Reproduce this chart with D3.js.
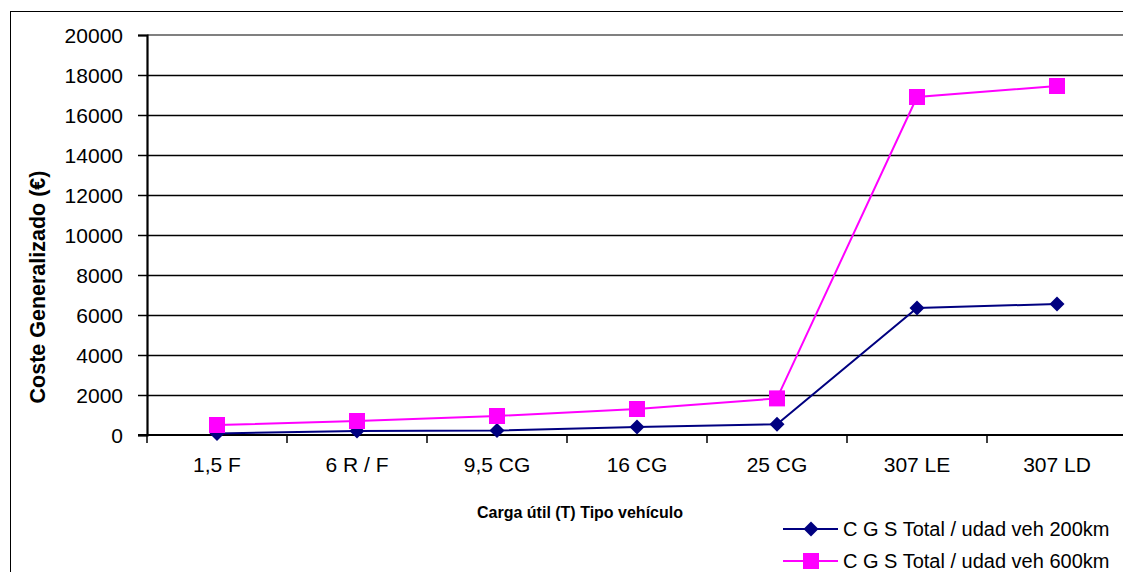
<!DOCTYPE html>
<html>
<head>
<meta charset="utf-8">
<script src="https://cdn.jsdelivr.net/npm/d3@7"></script>
<style>
  html, body { margin: 0; padding: 0; background: #fff; }
  svg { display: block; font-family: "Liberation Sans", Arial, sans-serif; }
</style>
</head>
<body>
<svg id="chart" width="1123" height="572"></svg>
<script>
// Vehicle categories (payload in tonnes + vehicle type)
const categories = ["1,5 F", "6 R / F", "9,5 CG", "16 CG", "25 CG", "307 LE", "307 LD"];
// Generalised cost per vehicle unit, 200 km trip (€)
const cost200 = [80, 200, 220, 400, 540, 6350, 6550];
// Generalised cost per vehicle unit, 600 km trip (€)
const cost600 = [500, 700, 950, 1300, 1830, 16900, 17450];
const yTicks = [0, 2000, 4000, 6000, 8000, 10000, 12000, 14000, 16000, 18000, 20000];
const seriesNames = ["C G S Total / udad veh 200km", "C G S Total / udad veh 600km"];
const seriesColors = ["#000080", "#FF00FF"];

const svg = d3.select("#chart");

const plot = { left: 147, right: 1127, top: 35, bottom: 435 };

const x = d3.scaleBand().domain(categories).range([plot.left, plot.right]).padding(0);
const y = d3.scaleLinear().domain([0, 20000]).range([plot.bottom, plot.top]);

// Outer chart frame
svg.append("rect")
  .attr("x", 10.5).attr("y", 11.5)
  .attr("width", 1200).attr("height", 700)
  .attr("fill", "#fff").attr("stroke", "#000").attr("stroke-width", 1);

// Horizontal gridlines
svg.append("g")
  .selectAll("line")
  .data(yTicks.filter(d => d > 0 && d < 20000))
  .join("line")
  .attr("x1", plot.left).attr("x2", plot.right)
  .attr("y1", d => Math.round(y(d)) + 0.5).attr("y2", d => Math.round(y(d)) + 0.5)
  .attr("stroke", "#000").attr("stroke-width", 1.3);

// Plot area top border (grey)
svg.append("line")
  .attr("x1", plot.left).attr("x2", plot.right)
  .attr("y1", y(20000)).attr("y2", y(20000))
  .attr("stroke", "#808080").attr("stroke-width", 2);

// Y axis
const yAxis = svg.append("g")
  .attr("transform", `translate(${plot.left},0)`)
  .call(d3.axisLeft(y).tickValues(yTicks).tickSize(9).tickPadding(15).tickFormat(d3.format("d")));
yAxis.select(".domain").attr("stroke", "#000").attr("stroke-width", 2.2);
yAxis.selectAll(".tick line").attr("stroke", "#000").attr("stroke-width", 1.5);
yAxis.selectAll(".tick text")
  .attr("font-size", 21).attr("fill", "#000")
  .attr("font-family", "'Liberation Sans', Arial, sans-serif")
  .attr("dy", "0.37em");

// X axis: ticks on category boundaries, labels centred in each band
const xAxis = svg.append("g").attr("transform", `translate(0,${plot.bottom})`);
xAxis.append("line")
  .attr("x1", plot.left - 9).attr("x2", plot.right)
  .attr("y1", 0).attr("y2", 0)
  .attr("stroke", "#000").attr("stroke-width", 2.2);
xAxis.selectAll("line.tk")
  .data(categories.map(c => x(c)).concat([x(categories[categories.length - 1]) + x.bandwidth()]))
  .join("line").attr("class", "tk")
  .attr("x1", d => d).attr("x2", d => d)
  .attr("y1", 0).attr("y2", 8)
  .attr("stroke", "#000").attr("stroke-width", 1.5);
xAxis.selectAll("text")
  .data(categories)
  .join("text")
  .attr("x", d => x(d) + x.bandwidth() / 2)
  .attr("y", 37)
  .attr("text-anchor", "middle")
  .attr("font-size", 21)
  .attr("fill", "#000")
  .text(d => d);

// Axis titles
svg.append("text")
  .attr("x", 580).attr("y", 518)
  .attr("text-anchor", "middle")
  .attr("font-size", 16).attr("font-weight", "bold")
  .text("Carga útil (T) Tipo vehículo");

svg.append("text")
  .attr("transform", "translate(45,287) rotate(-90)")
  .attr("text-anchor", "middle")
  .attr("font-size", 21.5).attr("font-weight", "bold")
  .text("Coste Generalizado (€)");

// Series lines and markers
const line = d3.line()
  .x((d, i) => x(categories[i]) + x.bandwidth() / 2)
  .y(d => y(d));

function drawMarker(g, kind, color) {
  if (kind === 0) {
    g.append("path")
      .attr("d", "M0,-7.5L7.5,0L0,7.5L-7.5,0Z")
      .attr("fill", color);
  } else {
    g.append("rect")
      .attr("x", -8).attr("y", -8).attr("width", 16).attr("height", 16)
      .attr("fill", color);
  }
}

[cost200, cost600].forEach((vals, s) => {
  svg.append("path")
    .datum(vals)
    .attr("d", line)
    .attr("fill", "none")
    .attr("stroke", seriesColors[s])
    .attr("stroke-width", 2);
  vals.forEach((v, i) => {
    const g = svg.append("g")
      .attr("transform", `translate(${x(categories[i]) + x.bandwidth() / 2},${y(v)})`);
    drawMarker(g, s, seriesColors[s]);
  });
});

// Legend
const legendRows = [529, 561];
seriesNames.forEach((name, s) => {
  const ly = legendRows[s];
  svg.append("line")
    .attr("x1", 783).attr("x2", 838).attr("y1", ly).attr("y2", ly)
    .attr("stroke", seriesColors[s]).attr("stroke-width", 2);
  const g = svg.append("g").attr("transform", `translate(811,${ly})`);
  drawMarker(g, s, seriesColors[s]);
  svg.append("text")
    .attr("x", 843).attr("y", ly + 7)
    .attr("font-size", 20)
    .attr("fill", "#000")
    .text(name);
});
</script>
</body>
</html>
